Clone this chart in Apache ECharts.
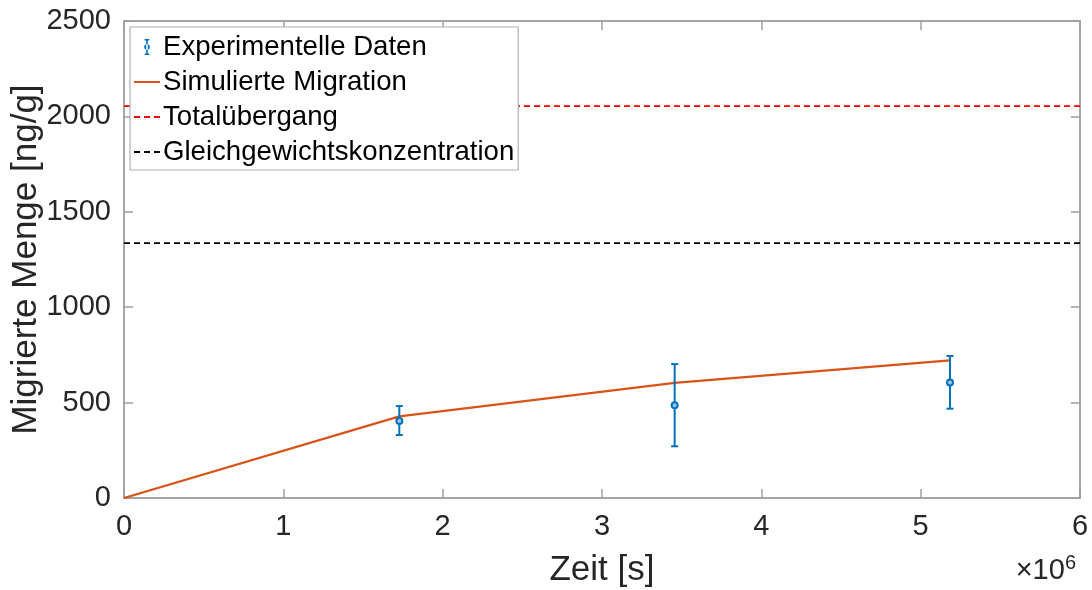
<!DOCTYPE html>
<html><head><meta charset="utf-8">
<script src="https://cdn.jsdelivr.net/npm/echarts@6/dist/echarts.min.js"></script>
<style>html,body{margin:0;padding:0;background:#fff}#c{width:1092px;height:590px}</style>
</head><body><div id="c"></div>
<script>
// ---- data ----
const expTime = [1728000, 3456000, 5184000];
const expMean = [404, 486, 606];
const expLow = [330, 271, 468];
const expHigh = [482, 702, 744];
const simTime = [0, 1728000, 3456000, 5184000];
const simValue = [0, 428, 603, 721];
const totalValue = 2054;
const equilibriumValue = 1336;
const xRange = [0, 6000000];
const seriesNames = ['Experimentelle Daten', 'Simulierte Migration', 'Totalübergang', 'Gleichgewichtskonzentration'];

const FONT = 'Liberation Sans, Arial, sans-serif';
const AX = '#a0a0a0';
const TXT = '#262626';
const BLUE = '#0072BD';

const chart = echarts.init(document.getElementById('c'));
const expData = expTime.map((t, i) => [t, expMean[i], expLow[i], expHigh[i]]);

function axisCommon() {
  return {
    show: true, gridIndex: 0,
    axisLine: {show: true, onZero: false, lineStyle: {color: AX, width: 1.5}},
    axisTick: {show: true, inside: true, length: 9, lineStyle: {color: AX, width: 1.5}},
    splitLine: {show: false}
  };
}
const hiddenSymbol = {color: 'rgba(0,0,0,0)', borderWidth: 0, opacity: 0};

chart.setOption({
  animation: false,
  grid: {left: 124, right: 12, top: 21, bottom: 92, containLabel: false, outerBoundsMode: 'none',
    show: true, borderColor: AX, borderWidth: 1.5, backgroundColor: 'transparent'},
  xAxis: [
    Object.assign(axisCommon(), {type: 'value', position: 'bottom', min: xRange[0], max: xRange[1], interval: 1000000,
      name: 'Zeit [s]', nameLocation: 'middle', nameGap: 55,
      nameTextStyle: {fontFamily: FONT, fontSize: 35, color: TXT},
      axisLabel: {fontFamily: FONT, fontSize: 29, color: TXT, margin: 14, formatter: v => String(v / 1000000)}}),
    Object.assign(axisCommon(), {type: 'value', position: 'top', min: xRange[0], max: xRange[1], interval: 1000000,
      axisLabel: {show: false}})
  ],
  yAxis: [
    Object.assign(axisCommon(), {type: 'value', position: 'left', min: 0, max: 2500, interval: 500,
      name: 'Migrierte Menge [ng/g]', nameLocation: 'middle', nameGap: 80, nameMoveOverlap: false,
      nameTextStyle: {fontFamily: FONT, fontSize: 35, color: TXT},
      axisLabel: {fontFamily: FONT, fontSize: 29, color: TXT, margin: 13, formatter: v => String(v)}}),
    Object.assign(axisCommon(), {type: 'value', position: 'right', min: 0, max: 2500, interval: 500,
      axisLabel: {show: false}})
  ],
  legend: {
    orient: 'vertical', left: 130, top: 27,
    backgroundColor: '#fff', borderColor: '#b0b0b0', borderWidth: 1.2, borderRadius: 0,
    padding: [5, 4, 3, 3], itemGap: 5, itemWidth: 26, itemHeight: 16,
    textStyle: {fontFamily: FONT, fontSize: 27.6, color: '#000', lineHeight: 30, padding: [0, 0, 0, -2]},
    data: [
      {name: seriesNames[0], icon: 'path://M10,0h6v2h-6z M12,0h2v20h-2z M10,18h6v2h-6z M13,6.5a3.5,3.5 0 1,0 0.01,0z'},
      {name: seriesNames[1], itemStyle: hiddenSymbol},
      {name: seriesNames[2], itemStyle: hiddenSymbol},
      {name: seriesNames[3], itemStyle: hiddenSymbol}
    ]
  },
  series: [
    {
      name: seriesNames[0], type: 'custom', z: 5,
      itemStyle: {color: BLUE},
      data: expData,
      encode: {x: 0, y: [1, 2, 3]},
      renderItem: function (params, api) {
        const x = api.value(0);
        const pm = api.coord([x, api.value(1)]);
        const pl = api.coord([x, api.value(2)]);
        const ph = api.coord([x, api.value(3)]);
        const cap = 3.5;
        const st = {stroke: BLUE, lineWidth: 2, fill: null};
        return {type: 'group', children: [
          {type: 'line', shape: {x1: pl[0], y1: pl[1], x2: ph[0], y2: ph[1]}, style: st},
          {type: 'line', shape: {x1: pl[0] - cap, y1: pl[1], x2: pl[0] + cap, y2: pl[1]}, style: st},
          {type: 'line', shape: {x1: ph[0] - cap, y1: ph[1], x2: ph[0] + cap, y2: ph[1]}, style: st},
          {type: 'circle', shape: {cx: pm[0], cy: pm[1], r: 3}, style: {stroke: BLUE, lineWidth: 2, fill: '#9cc6e6'}}
        ]};
      }
    },
    {
      name: seriesNames[1], type: 'line', z: 4, symbol: 'none',
      lineStyle: {color: '#D95319', width: 2.2},
      itemStyle: {color: '#D95319'},
      data: simTime.map((t, i) => [t, simValue[i]])
    },
    {
      name: seriesNames[2], type: 'line', z: 3, symbol: 'none',
      lineStyle: {color: '#FF0000', width: 1.6, type: [6, 4]},
      itemStyle: {color: '#FF0000'},
      data: [[xRange[0], totalValue], [xRange[1], totalValue]]
    },
    {
      name: seriesNames[3], type: 'line', z: 3, symbol: 'none',
      lineStyle: {color: '#000000', width: 1.6, type: [6, 4]},
      itemStyle: {color: '#000000'},
      data: [[xRange[0], equilibriumValue], [xRange[1], equilibriumValue]]
    }
  ],
  graphic: [{
    type: 'text', right: 16, top: 553,
    style: {
      text: '{a|×10}{b|6}', fill: TXT,
      rich: {
        a: {fontFamily: FONT, fontSize: 29, color: TXT, verticalAlign: 'bottom', lineHeight: 32},
        b: {fontFamily: FONT, fontSize: 20, color: TXT, verticalAlign: 'top', padding: [0, 0, 14, 0], lineHeight: 32}
      }
    }
  }]
});
</script></body></html>
